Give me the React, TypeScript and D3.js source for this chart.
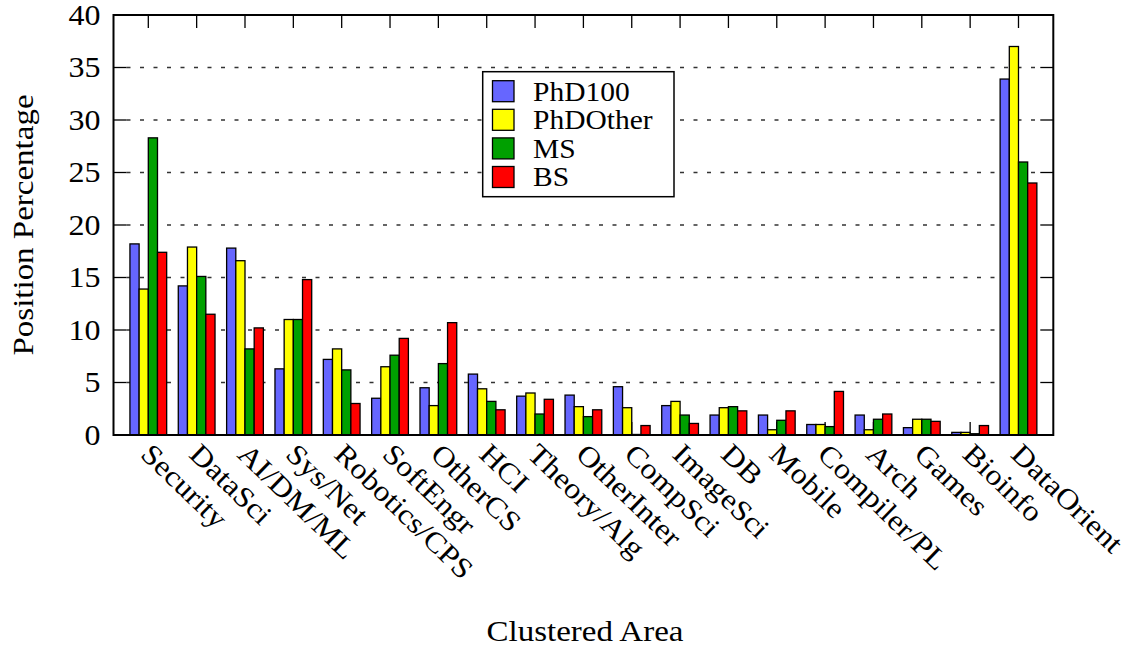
import React from "react";
import * as d3 from "d3";

const categories = ["Security","DataSci","AI/DM/ML","Sys/Net","Robotics/CPS","SoftEngr","OtherCS","HCI","Theory/Alg","OtherInter","CompSci","ImageSci","DB","Mobile","Compiler/PL","Arch","Games","Bioinfo","DataOrient"];
const seriesNames = ["PhD100", "PhDOther", "MS", "BS"];
const phd100 = [18.2,14.2,17.8,6.3,7.2,3.5,4.5,5.8,3.7,3.8,4.6,2.8,1.9,1.9,1.0,1.9,0.7,0.25,33.9];
const phdOther = [13.9,17.9,16.6,11.0,8.2,6.5,2.8,4.4,4.0,2.7,2.6,3.2,2.6,0.5,1.0,0.5,1.5,0.25,37.0];
const ms = [28.3,15.1,8.2,11.0,6.2,7.6,6.8,3.2,2.0,1.75,0.05,1.9,2.7,1.4,0.8,1.5,1.5,0.12,26.0];
const bs = [17.4,11.5,10.2,14.8,3.0,9.2,10.7,2.4,3.4,2.4,0.9,1.1,2.3,2.3,4.15,2.0,1.3,0.9,24.0];
const seriesValues = [phd100, phdOther, ms, bs];
const colors = ["#6666ff", "#ffff00", "#00a000", "#ff0000"];
const yTicks = [0, 5, 10, 15, 20, 25, 30, 35, 40];

const W = 1128, H = 649;
const left = 113.5, right = 1053.3, top = 15, bottom = 435;
const FONT = "Liberation Serif";
const SQ = 0.9;

export default function App() {
  const x = d3.scaleLinear().domain([-0.72, categories.length - 1 + 0.72]).range([left, right]);
  const y = d3.scaleLinear().domain([0, 40]).range([bottom, top]);
  const bw = x(0.19) - x(0);
  const tick = 13;

  return (
    <svg width={W} height={H} style={{ position: "absolute", left: 0, top: 0, background: "#fff" }}>
      <rect x={0} y={0} width={W} height={H} fill="#fff" />
      {yTicks.filter(t => t > 0 && t < 40).map(t => (
        <line key={"g" + t} x1={left + tick} x2={right - tick} y1={y(t)} y2={y(t)}
          stroke="#333" strokeWidth={1.3} strokeDasharray="4,9.5" />
      ))}
      {yTicks.map(t => (
        <g key={"yt" + t}>
          <line x1={left} x2={left + tick} y1={y(t)} y2={y(t)} stroke="#000" strokeWidth={1.3} />
          <line x1={right - tick} x2={right} y1={y(t)} y2={y(t)} stroke="#000" strokeWidth={1.3} />
          <text transform={`translate(${left - 13},${y(t) + 9.5}) scale(1,${SQ})`} textAnchor="end"
            fontFamily={FONT} fontSize={32}>{t}</text>
        </g>
      ))}
      {categories.map((c, i) => (
        <g key={"xt" + i}>
          <line x1={x(i)} x2={x(i)} y1={top} y2={top + tick} stroke="#000" strokeWidth={1.3} />
          <line x1={x(i)} x2={x(i)} y1={bottom} y2={bottom - tick} stroke="#000" strokeWidth={1.3} />
        </g>
      ))}
      {categories.map((c, i) => (
        <g key={"b" + i}>
          {seriesValues.map((vals, s) => {
            const x0 = x(i) + (s - 2) * bw;
            return (
              <rect key={s} x={x0} y={y(vals[i])} width={bw} height={y(0) - y(vals[i])}
                fill={colors[s]} stroke="#000" strokeWidth={1.3} />
            );
          })}
        </g>
      ))}
      <rect x={left} y={top} width={right - left} height={bottom - top} fill="none" stroke="#000" strokeWidth={2} />
      {categories.map((c, i) => (
        <text key={"xl" + i} transform={`translate(${x(i) - 9},${456}) rotate(44) scale(1,${SQ})`}
          fontFamily={FONT} fontSize={32} textAnchor="start">{c}</text>
      ))}
      <rect x={482.7} y={71.7} width={191.3} height={125} fill="#fff" stroke="#000" strokeWidth={1.5} />
      {seriesNames.map((n, s) => (
        <g key={"l" + s}>
          <rect x={492.5} y={80.7 + s * 28.6} width={21.5} height={21} fill={colors[s]} stroke="#000" strokeWidth={1.3} />
          <text transform={`translate(533,${100.5 + s * 28.6}) scale(1,${SQ})`} fontFamily={FONT} fontSize={29.5}>{n}</text>
        </g>
      ))}
      <text transform={`translate(33,225) rotate(-90) scale(1,0.92)`} textAnchor="middle" fontFamily={FONT} fontSize={33}>Position Percentage</text>
      <text transform={`translate(585,641) scale(1,${SQ})`} textAnchor="middle" fontFamily={FONT} fontSize={33}>Clustered Area</text>
    </svg>
  );
}
